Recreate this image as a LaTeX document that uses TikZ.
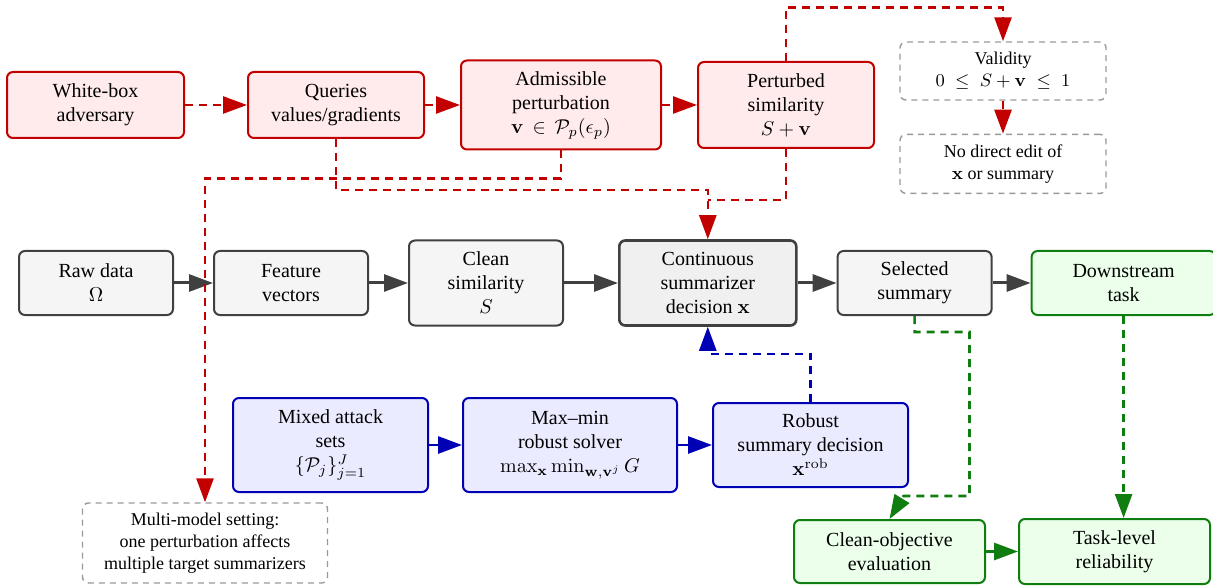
\documentclass[tikz,border=0pt]{standalone}
\usepackage[no-math]{fontspec}
\setmainfont{LiberationSerif}[Extension=.ttf, UprightFont=*-Regular, BoldFont=*-Bold, ItalicFont=*-Italic, BoldItalicFont=*-BoldItalic]
\usetikzlibrary{arrows.meta, positioning}

\definecolor{advred}{RGB}{195,0,0}
\definecolor{robblue}{RGB}{0,0,180}
\definecolor{evalgreen}{RGB}{15,125,15}
\definecolor{pipegray}{RGB}{64,64,64}

\begin{document}
\begin{tikzpicture}[
    node distance=17.5pt, % horizontal spacing between boxes
    basebox/.style={rectangle, draw, line width=1pt, rounded corners=3pt, align=center, inner sep=3pt},
    pipebox/.style={basebox, draw=pipegray, fill=gray!8, minimum width=77pt, minimum height=32pt},
    advbox/.style={basebox, draw=advred, fill=red!8, minimum width=88pt, minimum height=33pt},
    robbox/.style={basebox, draw=robblue, fill=blue!8, minimum width=97.5pt, minimum height=47pt},
    evalbox/.style={basebox, draw=evalgreen, fill=green!8, minimum width=95.5pt, minimum height=32pt},
    notebox/.style={rectangle, draw=gray!80, line width=0.7pt, dash pattern=on 3pt off 2.5pt, rounded corners=3pt, align=center, font=\small, minimum width=103pt, minimum height=29pt},
    pipearrow/.style={-{Triangle[length=12pt, width=8.5pt]}, line width=1.5pt, draw=pipegray},
    advline/.style={line width=1.3pt, draw=advred, dash pattern=on 4pt off 3pt},
    advarrow/.style={advline, -{Triangle[length=12pt, width=8.5pt]}},
    robarrow/.style={-{Triangle[length=12pt, width=8.5pt]}, line width=1.4pt, draw=robblue},
    robdashed/.style={robarrow, dash pattern=on 4pt off 3pt, line width=1.3pt},
    evalarrow/.style={-{Triangle[length=12pt, width=8.5pt]}, line width=1.4pt, draw=evalgreen},
    evaldashed/.style={evalarrow, dash pattern=on 4pt off 3pt, line width=1.3pt}
]
\useasboundingbox (0,0) rectangle (606.5pt,-293.5pt);

% Adversary components
\node[advbox, minimum width=88.5pt] (adversary) at (47.75pt,-52.5pt) {White-box\\adversary};
\node[advbox, right=31pt of adversary] (queries) {Queries\\values/gradients};
\node[advbox, right=of queries, minimum width=100pt, minimum height=44.5pt] (admissible) {Admissible\\perturbation\\$\mathbf{v} \,\in\, \mathcal{P}_p(\epsilon_p)$};
\node[advbox, right=of admissible, minimum height=43pt] (perturbed) {Perturbed\\similarity\\$S + \mathbf{v}$};

% Constraints
\node[notebox] (validity) at (501.5pt,-35.5pt) {Validity\\$0 \;\leq\; S + \mathbf{v} \;\leq\; 1$};
\node[notebox, below=16.5pt of validity, minimum height=29.5pt] (noedit) {No direct edit of\\$\mathbf{x}$ or summary};

% Clean pipeline
\node[pipebox] (raw) at (48pt,-141.5pt) {Raw data\\$\Omega$};
\node[pipebox, right=19.5pt of raw] (features) {Feature\\vectors};
\node[pipebox, right=19.5pt of features, minimum height=42.5pt] (clean) {Clean\\similarity\\$S$};
\node[pipebox, right=27pt of clean, minimum width=88.5pt, minimum height=42.5pt, fill=gray!12, line width=1.3pt] (decision) {Continuous\\summarizer\\decision $\mathbf{x}$};
\node[pipebox, right=19.5pt of decision] (selected) {Selected\\summary};
\node[evalbox, right=19pt of selected, minimum width=92pt] (downstream) {Downstream\\task};

% Robust solver
\node[robbox] (attacksets) at (165.25pt,-222.5pt) {Mixed attack\\sets\\$\{\mathcal{P}_j\}_{j=1}^{J}$};
\node[robbox, right=16.5pt of attacksets, minimum width=107pt] (solver) {Max--min\\robust solver\\$\max_{\mathbf{x}} \min_{\mathbf{w},\mathbf{v}^j} G$};
\node[robbox, right=17pt of solver, minimum height=42pt] (robust) {Robust\\summary decision\\$\mathbf{x}^{\mathrm{rob}}$};

% Evaluation
\node[notebox, minimum width=122.5pt, minimum height=40pt] (multimodel) at (102.5pt,-271.5pt) {Multi-model setting:\\one perturbation affects\\multiple target summarizers};
\node[evalbox, minimum height=31.5pt] (cleaneval) at (444.75pt,-275.75pt) {Clean-objective\\evaluation};
\node[evalbox, right=16pt of cleaneval, minimum height=32.5pt] (reliability) {Task-level\\reliability};

% Pipeline arrows
\draw[pipearrow] (raw) -- (features);
\draw[pipearrow] (features) -- (clean);
\draw[pipearrow] (clean) -- (decision);
\draw[pipearrow] (decision) -- (selected);
\draw[pipearrow] (selected) -- (downstream);

% Adversary arrows
\draw[advarrow] (adversary) -- (queries);
\draw[advarrow] (queries) -- (admissible);
\draw[advarrow] (admissible) -- (perturbed);
\draw[advarrow] (perturbed.north) |- ([yshift=17pt]validity.north) -- (validity.north);
\draw[advarrow] (validity) -- (noedit);
\draw[advarrow] (queries.south) |- ([yshift=24.5pt]decision.north) -- (decision.north);
\draw[advline] (perturbed.south) |- ([yshift=19.5pt]decision.north);
\draw[advarrow] (admissible.south) -- ++(0,-14pt) -| (multimodel.north);

% Robust arrows
\draw[robarrow] (attacksets) -- (solver);
\draw[robarrow] (solver) -- (robust);
\draw[robdashed] (robust.north) |- ([yshift=-13.5pt]decision.south) -- (decision.south);

% Evaluation arrows
\draw[evaldashed] (selected.south) -- ++(0,-8pt) -| ([xshift=40pt, yshift=11.5pt]cleaneval.north) -- ([xshift=7pt, yshift=11.5pt]cleaneval.north) -- (cleaneval.north);
\draw[evaldashed] (downstream.south) -- (downstream.south |- reliability.north);
\draw[evalarrow] (cleaneval) -- (reliability);

\end{tikzpicture}
\end{document}
